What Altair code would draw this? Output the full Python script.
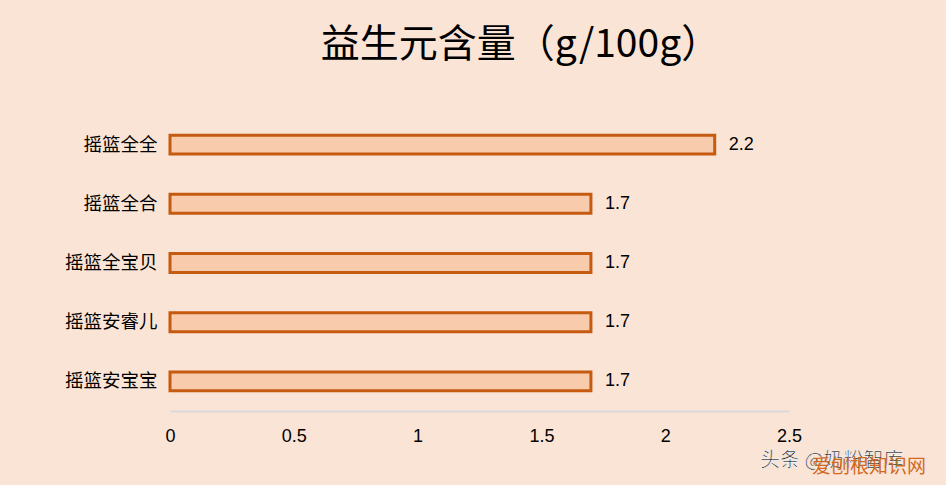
import pandas as pd
import altair as alt

# Data
brands = ["摇篮全全", "摇篮全合", "摇篮全宝贝", "摇篮安睿儿", "摇篮安宝宝"]
values = [2.2, 1.7, 1.7, 1.7, 1.7]
x_ticks = [0, 0.5, 1, 1.5, 2, 2.5]

df = pd.DataFrame({"brand": brands, "value": values})

BG = "#FAE4D6"
FONT = "Noto Sans CJK SC"

base = alt.Chart(df).encode(
    y=alt.Y(
        "brand:N",
        sort=brands,
        title=None,
        scale=alt.Scale(paddingInner=0.68),
        axis=alt.Axis(
            domain=False, ticks=False, labelPadding=13, labelFontSize=18.5,
            labelColor="#000000", labelFont=FONT,
        ),
    ),
    x=alt.X(
        "value:Q",
        title=None,
        scale=alt.Scale(domain=[0, 2.5], nice=False),
        axis=alt.Axis(
            values=x_ticks, grid=False, ticks=False, domain=True,
            domainColor="#D9D9D9", domainWidth=2, labelPadding=16,
            labelFontSize=18, labelColor="#000000", labelFont="Liberation Sans",
            labelFlush=False, labelExpr="datum.value",
        ),
    ),
)

bars = base.mark_bar(fill="#F8CBAD", stroke="#C55A11", strokeWidth=3, cornerRadius=0)

labels = base.mark_text(
    align="left", baseline="middle", dx=14, fontSize=18, font="Liberation Sans", color="#000000"
).encode(text=alt.Text("value:Q", format=".1f"))

# Watermark in the corner of the original screenshot
wm = pd.DataFrame({"t": ["头条 @奶粉智库"]})
watermark = alt.Chart(wm).mark_text(
    align="left", baseline="middle", fontSize=20, font=FONT, color="#222222",
    stroke="#ffffff", strokeWidth=0.6,
).encode(text="t:N", x=alt.value(590), y=alt.value(346))
wm2 = pd.DataFrame({"t": ["爱刨根知识网"]})
watermark2 = alt.Chart(wm2).mark_text(
    align="left", baseline="middle", fontSize=19, font=FONT, color="#D2691E",
).encode(text="t:N", x=alt.value(642), y=alt.value(352))

chart = (
    (bars + labels + watermark + watermark2)
    .properties(
        width=619,
        height=296,
        padding={"left": 162, "top": 107, "right": 149, "bottom": 66},
        autosize=alt.AutoSizeParams(type="none"),
        background=BG,
        title=alt.TitleParams(
            text="益生元含量（g/100g）",
            font=FONT,
            fontSize=39,
            fontWeight="normal",
            color="#000000",
            anchor="middle",
            dx=41,
            offset=50,
        ),
    )
    .configure_view(strokeWidth=0)
)

chart.save("out.html", embed_options={"renderer": "svg", "actions": False})

# Match the page background to the chart
with open("out.html", "r", encoding="utf-8") as f:
    content = f.read()
content = content.replace("</head>", "<style>body{background:%s;}</style>\n</head>" % BG, 1)
with open("out.html", "w", encoding="utf-8") as f:
    f.write(content)
